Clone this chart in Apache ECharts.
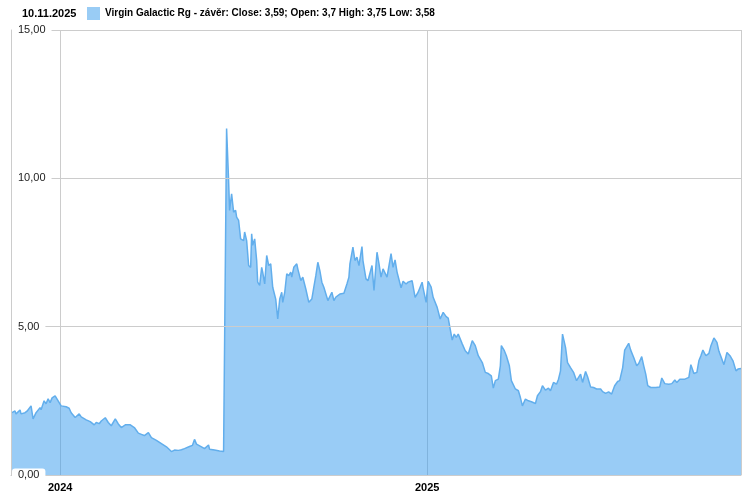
<!DOCTYPE html>
<html>
<head>
<meta charset="utf-8">
<script src="https://cdn.jsdelivr.net/npm/echarts@6/dist/echarts.min.js"></script>
<style>
html,body{margin:0;padding:0;background:#fff;}
#c{width:751px;height:496px;}
</style>
</head>
<body>
<div id="c"></div>
<script>
const titleDate = '10.11.2025';
const seriesName = 'Virgin Galactic Rg - závěr';
const lastQuote = {close: '3,59', open: '3,7', high: '3,75', low: '3,58'};
const yTicks = [0, 5, 10, 15];

const dates = [
'2023-11-14','2023-11-17','2023-11-18','2023-11-22','2023-11-23','2023-11-27','2023-11-29','2023-12-03','2023-12-05','2023-12-08',
'2023-12-12','2023-12-13','2023-12-16','2023-12-18','2023-12-20','2023-12-22','2023-12-24','2023-12-27','2023-12-30',
'2024-01-02','2024-01-07','2024-01-10','2024-01-12','2024-01-16','2024-01-20','2024-01-22','2024-01-27','2024-01-31',
'2024-02-04','2024-02-06','2024-02-09','2024-02-11','2024-02-15','2024-02-18','2024-02-21','2024-02-25','2024-02-28',
'2024-03-02','2024-03-06','2024-03-11','2024-03-15','2024-03-19','2024-03-22','2024-03-25','2024-03-29',
'2024-04-01','2024-04-06','2024-04-11','2024-04-16','2024-04-21','2024-04-24','2024-04-28',
'2024-05-01','2024-05-04','2024-05-09','2024-05-12','2024-05-14','2024-05-16','2024-05-21','2024-05-24','2024-05-28','2024-05-29',
'2024-06-03','2024-06-08','2024-06-12','2024-06-13','2024-06-15','2024-06-17','2024-06-18','2024-06-20','2024-06-22','2024-06-24',
'2024-06-25','2024-06-27','2024-06-29','2024-07-02','2024-07-03','2024-07-05','2024-07-07','2024-07-09','2024-07-10','2024-07-11',
'2024-07-13','2024-07-15','2024-07-16','2024-07-18','2024-07-20','2024-07-21','2024-07-23','2024-07-25','2024-07-27','2024-07-29',
'2024-07-31','2024-08-03','2024-08-05','2024-08-07','2024-08-09','2024-08-10','2024-08-12','2024-08-14','2024-08-16','2024-08-18',
'2024-08-19','2024-08-21','2024-08-24','2024-08-25','2024-08-28','2024-08-30','2024-09-02','2024-09-05','2024-09-08','2024-09-10',
'2024-09-12','2024-09-14','2024-09-16','2024-09-18','2024-09-20','2024-09-24','2024-09-28','2024-09-30','2024-10-02','2024-10-06',
'2024-10-10','2024-10-13','2024-10-15','2024-10-16','2024-10-19','2024-10-21','2024-10-23','2024-10-25','2024-10-26','2024-10-28',
'2024-10-29','2024-11-01','2024-11-03','2024-11-07','2024-11-09','2024-11-12','2024-11-14','2024-11-16','2024-11-18','2024-11-22',
'2024-11-26','2024-11-28','2024-11-30','2024-12-02','2024-12-06','2024-12-08','2024-12-11','2024-12-13','2024-12-17','2024-12-20',
'2024-12-23','2024-12-27','2024-12-28','2024-12-31',
'2025-01-02','2025-01-05','2025-01-07','2025-01-11','2025-01-14','2025-01-17','2025-01-20','2025-01-22','2025-01-24','2025-01-26',
'2025-01-28','2025-01-30','2025-02-01','2025-02-05','2025-02-08','2025-02-11','2025-02-15','2025-02-18','2025-02-21','2025-02-25',
'2025-02-28','2025-03-03','2025-03-06','2025-03-08','2025-03-10','2025-03-13','2025-03-15','2025-03-16','2025-03-19','2025-03-21',
'2025-03-24','2025-03-26','2025-03-30','2025-04-02','2025-04-04','2025-04-06','2025-04-09','2025-04-12','2025-04-15','2025-04-19',
'2025-04-21','2025-04-24','2025-04-26','2025-04-29','2025-05-02','2025-05-04','2025-05-07','2025-05-10','2025-05-12','2025-05-14',
'2025-05-16','2025-05-19','2025-05-21','2025-05-24','2025-05-27','2025-05-30','2025-06-03','2025-06-05','2025-06-08','2025-06-10',
'2025-06-13','2025-06-16','2025-06-19','2025-06-23','2025-06-25','2025-06-28','2025-07-01','2025-07-04','2025-07-07','2025-07-10',
'2025-07-12','2025-07-15','2025-07-17','2025-07-21','2025-07-23','2025-07-26','2025-07-29','2025-07-31','2025-08-03','2025-08-05',
'2025-08-07','2025-08-09','2025-08-12','2025-08-17','2025-08-21','2025-08-23','2025-08-26','2025-08-30','2025-09-02','2025-09-05',
'2025-09-07','2025-09-10','2025-09-15','2025-09-19','2025-09-21','2025-09-24','2025-09-27','2025-09-29','2025-10-01','2025-10-03',
'2025-10-06','2025-10-09','2025-10-11','2025-10-14','2025-10-17','2025-10-19','2025-10-21','2025-10-24','2025-10-27','2025-10-30',
'2025-11-02','2025-11-05','2025-11-07','2025-11-10'
];

const closes = [
2.10,2.16,2.06,2.19,2.06,2.10,2.15,2.33,1.89,2.10,
2.27,2.20,2.50,2.40,2.57,2.44,2.60,2.67,2.50,
2.33,2.30,2.25,2.10,1.94,2.06,1.96,1.86,1.80,
1.69,1.77,1.73,1.82,1.93,1.77,1.66,1.89,1.72,
1.60,1.69,1.69,1.60,1.41,1.37,1.33,1.43,
1.26,1.17,1.06,0.95,0.79,0.84,0.83,
0.85,0.89,0.96,1.00,1.20,1.04,0.95,0.89,1.01,0.87,
0.84,0.81,0.79,0.75,11.68,9.93,8.92,9.48,8.86,8.92,
8.69,8.58,7.96,7.90,8.19,7.90,7.06,7.00,8.13,7.74,
7.96,7.23,6.50,6.39,7.00,6.84,6.44,7.40,7.06,7.12,
6.33,5.93,5.26,5.93,6.16,5.82,6.16,6.78,6.72,6.84,
6.67,7.00,7.12,6.95,6.55,6.67,6.27,5.82,5.93,6.33,
6.72,7.17,6.89,6.50,6.33,5.88,6.16,5.88,6.00,6.10,
6.13,6.44,6.67,7.12,7.68,7.23,7.34,7.06,7.10,7.70,
7.23,6.61,6.55,7.06,6.22,7.51,7.12,6.67,6.95,6.67,
7.46,7.00,7.25,6.84,6.31,6.53,6.44,6.50,6.55,5.99,
6.16,6.50,6.30,5.82,
6.53,6.33,5.99,5.65,5.26,5.48,5.34,5.29,4.92,4.55,
4.75,4.64,4.75,4.42,4.19,4.08,4.53,4.36,4.02,3.79,
3.46,3.42,3.34,2.93,3.18,3.23,3.68,4.36,4.19,4.02,
3.68,3.18,2.90,2.84,2.61,2.33,2.56,2.50,2.47,2.41,
2.67,2.81,3.01,2.86,2.93,2.84,3.12,3.06,3.23,3.51,
4.75,4.30,3.79,3.62,3.46,3.18,3.40,3.12,3.49,3.31,
2.97,2.95,2.90,2.90,2.81,2.75,2.80,2.73,3.01,3.15,
3.18,3.62,4.21,4.44,4.21,3.96,3.68,3.76,3.99,3.68,
3.40,3.01,2.95,2.95,2.97,3.27,3.08,3.06,3.08,3.20,
3.12,3.23,3.23,3.29,3.72,3.42,3.46,3.85,4.02,4.21,
4.02,4.10,4.36,4.62,4.47,4.17,3.99,3.72,4.13,4.02,
3.85,3.51,3.57,3.59
];

const seriesData = dates.map((d, i) => [d, closes[i]]);
const legendText = seriesName + ': Close: ' + lastQuote.close + '; Open: ' + lastQuote.open +
  ' High: ' + lastQuote.high + ' Low: ' + lastQuote.low;

const chart = echarts.init(document.getElementById('c'), null, {renderer: 'canvas'});
const DAY = 24 * 3600 * 1000;
chart.setOption({
  animation: false,
  backgroundColor: '#fff',
  textStyle: {fontFamily: 'Liberation Sans, Arial, sans-serif'},
  title: {
    text: titleDate,
    left: 17, top: 3,
    textStyle: {fontSize: 11, fontWeight: 'bold', color: '#000', fontFamily: 'Liberation Sans, Arial, sans-serif'}
  },
  legend: {
    left: 82, top: 2,
    icon: 'rect',
    itemWidth: 13, itemHeight: 13, itemGap: 6,
    itemStyle: {color: '#99ccf5', borderWidth: 0},
    formatter: function () { return legendText; },
    textStyle: {fontSize: 10, fontWeight: 'bold', color: '#000', fontFamily: 'Liberation Sans, Arial, sans-serif'}
  },
  grid: {left: 11, right: 10, top: 30, bottom: 21, containLabel: false},
  xAxis: {
    type: 'time',
    min: '2023-11-13',
    max: '2025-11-10',
    minInterval: 365 * DAY,
    maxInterval: 366 * DAY,
    axisLine: {show: true, lineStyle: {color: '#cccccc'}},
    axisTick: {show: false},
    splitLine: {show: true, lineStyle: {color: '#cccccc', width: 1}},
    axisLabel: {
      margin: 7,
      fontSize: 11, fontWeight: 'bold', color: '#000',
      formatter: function (v) { return String(new Date(v).getFullYear()); }
    }
  },
  yAxis: {
    type: 'value',
    min: yTicks[0], max: yTicks[yTicks.length - 1], interval: 5,
    axisLine: {show: true, lineStyle: {color: '#cccccc'}},
    axisTick: {show: false},
    splitLine: {show: true, lineStyle: {color: '#cccccc', width: 1}},
    axisLabel: {
      inside: true,
      margin: 1,
      fontSize: 11, color: '#222',
      backgroundColor: '#fff',
      borderRadius: 3,
      padding: [1, 6, 1, 6],
      formatter: function (v) { return v.toFixed(2).replace('.', ','); }
    },
    z: 5
  },
  series: [{
    name: seriesName,
    type: 'line',
    data: seriesData,
    showSymbol: false,
    symbol: 'none',
    smooth: false,
    itemStyle: {color: '#99ccf5'},
    lineStyle: {color: '#62aeec', width: 1.5},
    areaStyle: {color: 'rgba(51,153,238,0.5)', opacity: 1},
    z: 2
  }]
});
</script>
</body>
</html>
